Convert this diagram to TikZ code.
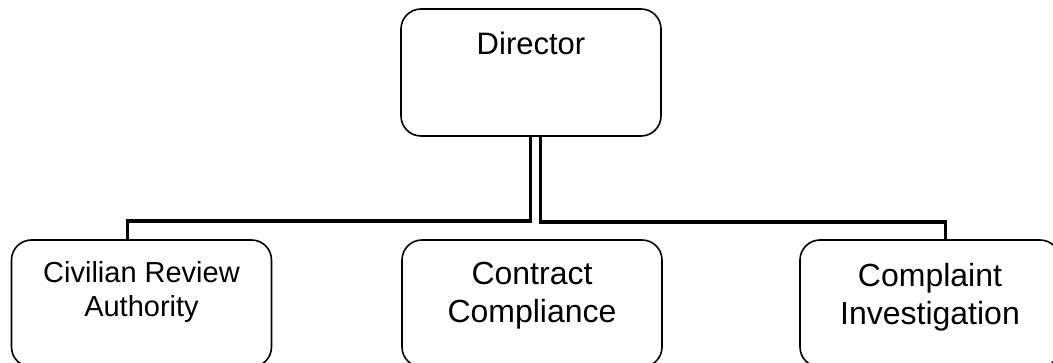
\documentclass[tikz,border=0pt]{standalone}
\usepackage{fontspec}
\setmainfont{Liberation Sans}
\usetikzlibrary{positioning}

\begin{document}
\begin{tikzpicture}[x=1pt, y=-1pt,
	unit/.style = {draw, line width=1.6pt, rounded corners=20pt, minimum width=260pt, minimum height=127pt},
	caption/.style = {inner sep=0pt, align=center},
	link/.style = {line width=3.6pt}]
	\useasboundingbox (0,0) rectangle (1053,363);
	\node[unit] (dir) at (531,72.5) {};
	\node[unit] (cra) at (141.5,303.5) {};
	\node[unit] (cc) at (532,303.5) {};
	\node[unit] (ci) at (930,303.5) {};
	\node[caption, below=24pt of dir.north, font=\fontsize{31}{36}\selectfont] (dirtext) {Director};
	\node[caption, below=22pt of cra.north, font=\fontsize{29}{34}\selectfont] (cratext) {Civilian Review\\Authority};
	\node[caption, below=23pt of cc.north, font=\fontsize{32}{37.5}\selectfont] (cctext) {Contract\\Compliance};
	\node[caption, below=24pt of ci.north, font=\fontsize{32}{37.5}\selectfont] (citext) {Complaint\\Investigation};
	\draw[link] ([xshift=-0.5pt]dir.south) |- ([xshift=-14pt, yshift=18pt]cra.north) -- ([xshift=-14pt]cra.north);
	\draw[link] ([xshift=9.5pt]dir.south) |- ([xshift=15.5pt, yshift=17pt]ci.north) -- ([xshift=15.5pt]ci.north);
\end{tikzpicture}
\end{document}
